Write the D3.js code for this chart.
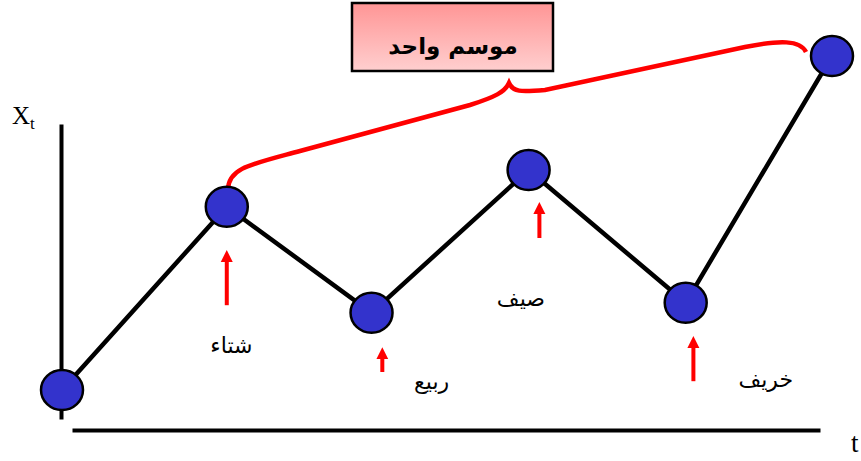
<!DOCTYPE html>
<html>
<head>
<meta charset="utf-8">
<script src="https://cdn.jsdelivr.net/npm/d3@7"></script>
<style>
	body { margin: 0; background: #fff; }
	.axis path { stroke: #000; stroke-width: 4; }
	.axis .tick { display: none; }
</style>
</head>
<body>
<svg width="861" height="461"></svg>
<script>
// time index and value of each point (x axis = t, y axis = Xt)
var times = [0, 1.07, 2.01, 3.03, 4.05, 5.0];
var values = [1.0, 5.58, 2.93, 6.5, 3.18, 9.35];

// seasons: label, arrow position and label position (in data units)
var seasons = ['شتاء', 'ربيع', 'صيف', 'خريف'];
var arrowT = [1.07, 2.08, 3.1, 4.1];
var arrowFrom = [3.12, 1.45, 4.8, 1.22];
var arrowTo = [4.55, 2.12, 5.75, 2.4];
var labelT = [1.1, 2.4, 2.98, 4.57];
var labelV = [1.92, 1.03, 3.1, 1.08];

var boxTitle = 'موسم واحد';

var svg = d3.select('svg');

var x = d3.scaleLinear().domain([0, 5]).range([62, 832]),
	y = d3.scaleLinear().domain([0, 10]).range([430, 30]);

var defs = svg.append('defs');
var grad = defs.append('linearGradient')
	.attr('id', 'boxGrad')
	.attr('x1', 0).attr('y1', 0).attr('x2', 0).attr('y2', 1);
grad.append('stop').attr('offset', '0%').attr('stop-color', '#ff9595');
grad.append('stop').attr('offset', '100%').attr('stop-color', '#ffcfcf');

defs.append('marker')
	.attr('id', 'arrowHead')
	.attr('viewBox', '0 0 10 10')
	.attr('refX', 5).attr('refY', 5)
	.attr('markerWidth', 3).attr('markerHeight', 3.6)
	.attr('orient', 'auto')
	.append('path')
	.attr('d', 'M0,0 L10,5 L0,10 Z')
	.attr('fill', '#ff0000');

// axes with no ticks
var xAxisScale = d3.scaleLinear().range([72, 820]),
	yAxisScale = d3.scaleLinear().range([419, 124]);

svg.append('g')
	.attr('class', 'axis')
	.attr('transform', 'translate(0,430)')
	.call(d3.axisBottom(xAxisScale).ticks(0).tickSizeOuter(0));

svg.append('g')
	.attr('class', 'axis')
	.attr('transform', 'translate(61,0)')
	.call(d3.axisLeft(yAxisScale).ticks(0).tickSizeOuter(0));

var xt = svg.append('text')
	.attr('x', 12).attr('y', 124)
	.style('font-family', 'Liberation Serif')
	.style('font-size', '25px');
xt.append('tspan').text('X');
xt.append('tspan').attr('dy', 5).style('font-size', '17px').text('t');

svg.append('text')
	.attr('x', 851).attr('y', 452)
	.style('font-family', 'Liberation Serif')
	.style('font-size', '27px')
	.text('t');

// brace over one season
svg.append('path')
	.attr('d', 'M228,190 C228,168 250,164.5 300,151 L470,105 C495,97 505,92 509,83 C513,92 520,92 545,90 L745,47 C780,40 800,40 806,52')
	.attr('fill', 'none')
	.attr('stroke', '#ff0000')
	.attr('stroke-width', 4.5);

// title box
svg.append('rect')
	.attr('x', 352).attr('y', 3)
	.attr('width', 201).attr('height', 68)
	.attr('fill', 'url(#boxGrad)')
	.attr('stroke', '#000')
	.attr('stroke-width', 2.5);

svg.append('text')
	.attr('x', 453).attr('y', 54)
	.attr('text-anchor', 'middle')
	.style('font-family', 'DejaVu Sans')
	.style('font-weight', 'bold')
	.style('font-size', '23px')
	.text(boxTitle);

// zigzag line
var pts = times.map(function(t, i) {
	return [t, values[i]];
});

var line = d3.line()
	.x(function(d) { return x(d[0]); })
	.y(function(d) { return y(d[1]); });

svg.append('path')
	.datum(pts)
	.attr('d', line)
	.attr('fill', 'none')
	.attr('stroke', '#000')
	.attr('stroke-width', 4.5);

svg.selectAll('.dot')
	.data(pts)
	.enter().append('ellipse')
	.attr('class', 'dot')
	.attr('cx', function(d) { return x(d[0]); })
	.attr('cy', function(d) { return y(d[1]); })
	.attr('rx', 21)
	.attr('ry', 20)
	.attr('fill', '#3333cc')
	.attr('stroke', '#000')
	.attr('stroke-width', 2.5);

// red arrows under each season point
svg.selectAll('.arrow')
	.data(seasons)
	.enter().append('line')
	.attr('class', 'arrow')
	.attr('x1', function(d, i) { return x(arrowT[i]); })
	.attr('x2', function(d, i) { return x(arrowT[i]); })
	.attr('y1', function(d, i) { return y(arrowFrom[i]); })
	.attr('y2', function(d, i) { return y(arrowTo[i]) + 8; })
	.attr('stroke', '#ff0000')
	.attr('stroke-width', 4)
	.attr('marker-end', 'url(#arrowHead)');

svg.selectAll('.season')
	.data(seasons)
	.enter().append('text')
	.attr('class', 'season')
	.attr('x', function(d, i) { return x(labelT[i]); })
	.attr('y', function(d, i) { return y(labelV[i]); })
	.attr('text-anchor', 'middle')
	.style('font-family', 'DejaVu Sans')
	.style('font-size', '22px')
	.text(function(d) { return d; });
</script>
</body>
</html>
